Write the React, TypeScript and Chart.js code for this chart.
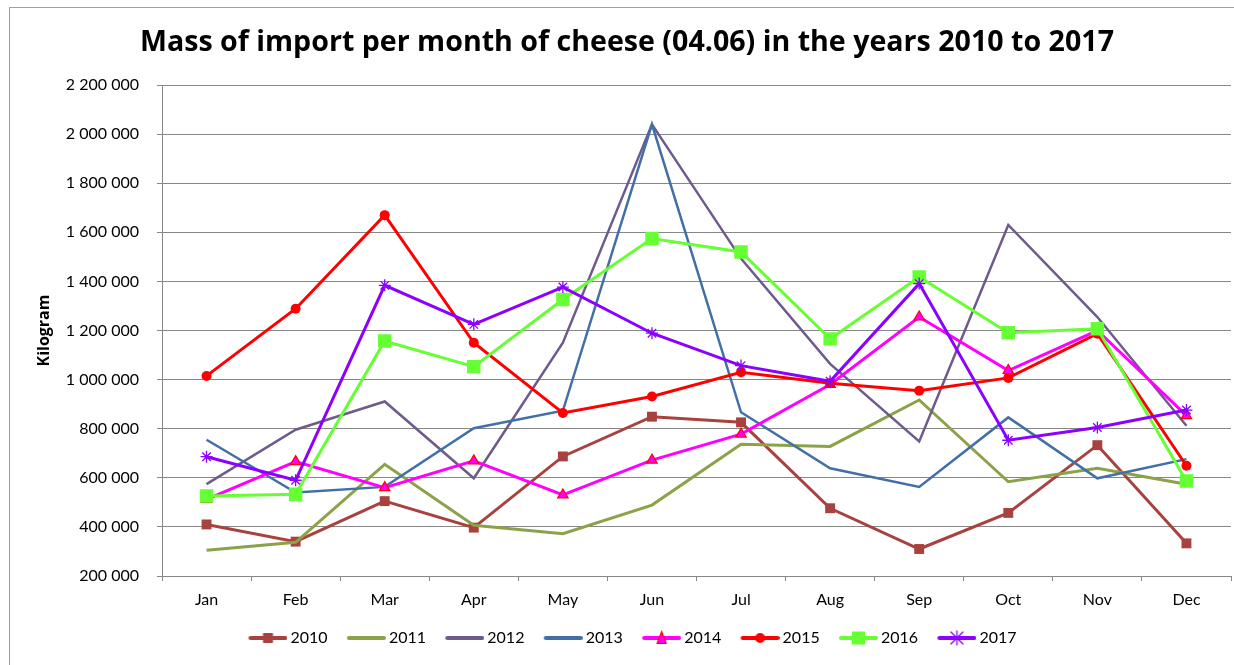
import React, { useEffect, useRef } from 'react';
import { Chart, registerables } from 'chart.js';

Chart.register(...registerables);

const titleText = 'Mass of import per month of cheese (04.06) in the years 2010 to 2017';
const yAxisTitle = 'Kilogram';
const months = ['Jan', 'Feb', 'Mar', 'Apr', 'May', 'Jun', 'Jul', 'Aug', 'Sep', 'Oct', 'Nov', 'Dec'];
const years = ['2010', '2011', '2012', '2013', '2014', '2015', '2016', '2017'];

const v2010 = [410000, 340000, 505000, 397000, 687000, 849000, 826000, 476000, 310000, 457000, 733000, 333000];
const v2011 = [305000, 337000, 655000, 407000, 372000, 489000, 737000, 728000, 917000, 584000, 639000, 574000];
const v2012 = [574000, 796000, 911000, 598000, 1150000, 2040000, 1493000, 1064000, 748000, 1630000, 1255000, 812000];
const v2013 = [755000, 540000, 563000, 802000, 873000, 2040000, 867000, 639000, 563000, 846000, 598000, 676000];
const v2014 = [512000, 666000, 560000, 669000, 530000, 672000, 778000, 980000, 1255000, 1037000, 1200000, 853000];
const v2015 = [1015000, 1289000, 1670000, 1150000, 864000, 931000, 1030000, 985000, 955000, 1007000, 1187000, 649000];
const v2016 = [526000, 533000, 1157000, 1053000, 1326000, 1575000, 1520000, 1166000, 1418000, 1191000, 1207000, 587000];
const v2017 = [686000, 590000, 1384000, 1225000, 1377000, 1189000, 1057000, 993000, 1391000, 753000, 805000, 876000];

const yMin = 200000;
const yMax = 2200000;
const yStep = 200000;

const seriesValues = [v2010, v2011, v2012, v2013, v2014, v2015, v2016, v2017];

type Style = {
  color: string;
  width: number;
  marker: 'none' | 'rect' | 'circle' | 'triangle' | 'star';
  radius: number;
  fill: string;
  stroke: string;
  strokeWidth: number;
  iconSize: number;
};

const styles: Style[] = [
  { color: '#A8423F', width: 3, marker: 'rect', radius: 7, fill: '#A8423F', stroke: '#A8423F', strokeWidth: 0, iconSize: 10 },
  { color: '#8BA248', width: 3, marker: 'none', radius: 0, fill: '#8BA248', stroke: '#8BA248', strokeWidth: 0, iconSize: 0 },
  { color: '#6E5A8C', width: 2.5, marker: 'none', radius: 0, fill: '#6E5A8C', stroke: '#6E5A8C', strokeWidth: 0, iconSize: 0 },
  { color: '#4270A6', width: 2.5, marker: 'none', radius: 0, fill: '#4270A6', stroke: '#4270A6', strokeWidth: 0, iconSize: 0 },
  { color: '#FF00FF', width: 3, marker: 'triangle', radius: 6, fill: '#FF00FF', stroke: '#FF0000', strokeWidth: 1.2, iconSize: 11 },
  { color: '#FF0000', width: 3, marker: 'circle', radius: 5, fill: '#FF0000', stroke: '#FF0000', strokeWidth: 0, iconSize: 10 },
  { color: '#66FF33', width: 3, marker: 'rect', radius: 9.5, fill: '#66FF33', stroke: '#66FF33', strokeWidth: 0, iconSize: 13 },
  { color: '#8B00FF', width: 3, marker: 'star', radius: 6, fill: '#8B00FF', stroke: '#8B00FF', strokeWidth: 1.3, iconSize: 12 },
];

const FONT = "Lato, 'Open Sans', sans-serif";
const BOLD_FONT = "'Open Sans', Lato, sans-serif";
const GRID = '#878787';

function makeIcon(s: Style): HTMLCanvasElement {
  const c = document.createElement('canvas');
  c.width = 55;
  c.height = 16;
  const ctx = c.getContext('2d')!;
  ctx.strokeStyle = s.color;
  ctx.lineWidth = 4;
  ctx.lineCap = 'round';
  ctx.beginPath();
  ctx.moveTo(18, 8);
  ctx.lineTo(53, 8);
  ctx.stroke();
  const cx = 35.5;
  const cy = 8;
  const sz = s.iconSize;
  ctx.fillStyle = s.fill;
  ctx.strokeStyle = s.stroke;
  if (s.marker === 'rect') {
    ctx.fillRect(cx - sz / 2, cy - sz / 2, sz, sz);
  } else if (s.marker === 'circle') {
    ctx.beginPath();
    ctx.arc(cx, cy, sz / 2, 0, Math.PI * 2);
    ctx.fill();
  } else if (s.marker === 'triangle') {
    ctx.lineWidth = 1.2;
    ctx.beginPath();
    ctx.moveTo(cx, cy - sz / 2 - 1);
    ctx.lineTo(cx + sz / 2 - 1, cy + sz / 2);
    ctx.lineTo(cx - sz / 2 + 1, cy + sz / 2);
    ctx.closePath();
    ctx.fill();
    ctx.stroke();
  } else if (s.marker === 'star') {
    const r = sz / 2;
    ctx.lineWidth = 1.3;
    ctx.beginPath();
    ctx.moveTo(cx - r, cy - r);
    ctx.lineTo(cx + r, cy + r);
    ctx.moveTo(cx + r, cy - r);
    ctx.lineTo(cx - r, cy + r);
    ctx.moveTo(cx, cy - r - 1);
    ctx.lineTo(cx, cy + r + 1);
    ctx.stroke();
  }
  return c;
}

function fmt(v: number): string {
  return Math.round(v).toString().replace(/\B(?=(\d{3})+(?!\d))/g, ' ');
}

export default function App() {
  const ref = useRef<HTMLCanvasElement | null>(null);

  useEffect(() => {
    if (!ref.current) return;
    const icons = styles.map(makeIcon);
    const datasets = years.map((y, i) => {
      const s = styles[i];
      return {
        label: y,
        data: seriesValues[i],
        borderColor: s.color,
        backgroundColor: s.color,
        borderWidth: s.width,
        tension: 0,
        pointStyle: s.marker === 'none' ? 'circle' : s.marker,
        pointRadius: s.radius,
        pointBackgroundColor: s.fill,
        pointBorderColor: s.stroke,
        pointBorderWidth: s.strokeWidth,
        order: years.length - 1 - i,
        yAxisID: 'y',
      };
    });

    const chart = new Chart(ref.current, {
      type: 'line',
      data: { labels: months, datasets: datasets as any },
      options: {
        animation: false,
        responsive: false,
        events: [],
        layout: { padding: { left: 0, right: 0, top: 0, bottom: 9 } },
        plugins: {
          tooltip: { enabled: false },
          title: {
            display: true,
            text: titleText,
            color: '#000',
            font: { family: BOLD_FONT, size: 28.6, weight: 'bold' },
            padding: { top: 18.5, bottom: 25.2 },
          },
          legend: {
            display: true,
            position: 'bottom',
            labels: {
              usePointStyle: true,
              pointStyleWidth: 45,
              color: '#000',
              font: { family: FONT, size: 16 },
              padding: 8.3,
              generateLabels: () =>
                years.map((y, i) => ({
                  text: y,
                  pointStyle: icons[i] as any,
                  fillStyle: styles[i].color,
                  strokeStyle: styles[i].color,
                  lineWidth: 0,
                  hidden: false,
                  datasetIndex: i,
                  fontColor: '#000',
                })),
            },
          },
        },
        scales: {
          x: {
            type: 'category',
            offset: true,
            grid: {
              offset: true,
              drawOnChartArea: false,
              drawTicks: true,
              tickLength: 5,
              color: GRID,
            },
            border: { display: true, color: GRID },
            ticks: {
              color: '#000',
              font: { family: FONT, size: 16 },
              padding: 9,
              maxRotation: 0,
              autoSkip: false,
            },
            afterFit: (s: any) => {
              s.height = 45.7;
            },
          },
          y: {
            type: 'linear',
            position: 'left',
            min: yMin,
            max: yMax,
            grid: { color: GRID, tickLength: 5, drawTicks: true },
            border: { display: true, color: GRID },
            ticks: {
              stepSize: yStep,
              color: '#000',
              font: { family: FONT, size: 16 },
              padding: 18,
              callback: (v: any) => fmt(Number(v)),
            },
            title: {
              display: true,
              text: yAxisTitle,
              color: '#000',
              font: { family: BOLD_FONT, size: 16, weight: 'bold' },
              padding: { top: 25.4, bottom: 0 },
            },
            afterFit: (s: any) => {
              s.width = 153;
            },
          },
          yR: {
            type: 'linear',
            position: 'right',
            display: true,
            grid: { display: false, drawTicks: false },
            border: { display: false },
            ticks: { display: false },
            afterFit: (s: any) => {
              s.width = 14;
            },
          },
        },
      } as any,
    });
    return () => chart.destroy();
  }, []);

  return (
    <div style={{ position: 'fixed', left: 0, top: 0, width: 1234, height: 665, overflow: 'hidden', background: '#fff' }}>
      <div
        style={{
          position: 'absolute',
          left: 9,
          top: 7,
          width: 1300,
          height: 800,
          border: '1px solid #A0A0A0',
          boxSizing: 'border-box',
        }}
      />
      <canvas
        ref={ref}
        width={1236}
        height={658}
        style={{ position: 'absolute', left: 9, top: 7, width: 1236, height: 658 }}
      />
    </div>
  );
}
